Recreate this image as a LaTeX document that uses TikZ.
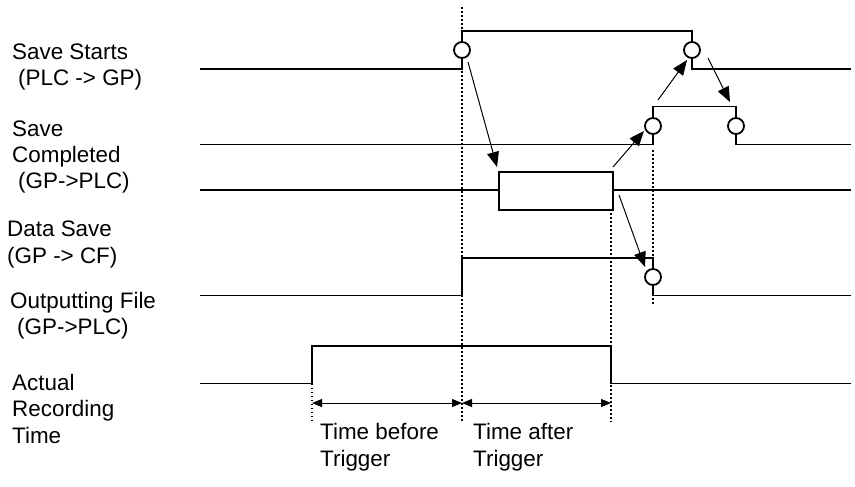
\documentclass[tikz,border=0pt]{standalone}
\usepackage{fontspec}
\setmainfont{Liberation Sans}
\usetikzlibrary{arrows.meta}
\begin{document}
\begin{tikzpicture}[x=1bp,y=-1bp,
  wave/.style={line width=1.8bp, line join=miter},
  dots/.style={line width=1.6bp, dash pattern=on 1.6bp off 2.4bp},
  flow/.style={line width=1bp, -{Triangle[length=15bp,width=12bp]}},
  dim/.style={line width=1bp, {Triangle[length=10bp,width=8bp]}-{Triangle[length=10bp,width=8bp]}},
  sigcirc/.style={circle, draw, fill=white, line width=1.8bp, minimum size=16bp, inner sep=0pt},
  lbl/.style={anchor=base west, inner sep=0pt, font=\fontsize{22.5}{27}\selectfont}]
\useasboundingbox (0,0) rectangle (855,487);

% labels
\node[lbl] (l1a) at (12,59.3) {Save Starts};
\node[lbl] (l1b) at (18,85.8) {(PLC -> GP)};
\node[lbl] (l2a) at (12,136.7) {Save};
\node[lbl] (l2b) at (12,162.5) {Completed};
\node[lbl] (l2c) at (18,189) {(GP->PLC)};
\node[lbl] (l3a) at (7,236.7) {Data Save};
\node[lbl] (l3b) at (7,263.3) {(GP -> CF)};
\node[lbl] (l4a) at (10,308.3) {Outputting File};
\node[lbl] (l4b) at (17,335) {(GP->PLC)};
\node[lbl] (l5a) at (12,390) {Actual};
\node[lbl] (l5b) at (12,416.7) {Recording};
\node[lbl] (l5c) at (12,443.3) {Time};
\node[lbl] (tb1) at (320,439) {Time before};
\node[lbl] (tb2) at (320,466) {Trigger};
\node[lbl] (ta1) at (473,439) {Time after};
\node[lbl] (ta2) at (473,466) {Trigger};

% dotted guide lines
\draw[dots] (462,7) -- (462,422);
\draw[dots] (611,209) -- (611,422);
\draw[dots] (312,383.5) -- (312,422);
\draw[dots] (653,150) -- (653,306);

% waveforms
\draw[wave] (200,69) -- (462,69) -- (462,31) -- (692,31) -- (692,69) -- (851,69);
\draw[wave] (200,144.5) -- (653,144.5) -- (653,106.5) -- (736,106.5) -- (736,144.5) -- (851,144.5);
\draw[wave] (200,190) -- (498,190);
\draw[wave] (612,190) -- (851,190);
\node[draw, line width=1.8bp, fill=white, minimum width=114bp, minimum height=38bp, inner sep=0pt, anchor=north west] (dbox) at (498,171) {};
\draw[wave] (200,295.5) -- (462,295.5) -- (462,258) -- (653,258) -- (653,295.5) -- (851,295.5);
\draw[wave] (200,383.5) -- (312,383.5) -- (312,346) -- (611,346) -- (611,383.5) -- (851,383.5);

% handshake circles
\node[sigcirc] (c1) at (462,50) {};
\node[sigcirc] (c2) at (692,50) {};
\node[sigcirc] (c3) at (653,126) {};
\node[sigcirc] (c4) at (736,126) {};
\node[sigcirc] (c5) at (653,277) {};

% arrow end points
\coordinate (a1s) at (468,62);
\coordinate (a1e) at (497,167);
\coordinate (a2s) at (613,167);
\coordinate (a2e) at (644,131);
\coordinate (a3s) at (658,100);
\coordinate (a3e) at (687,60);
\coordinate (a4s) at (708,58);
\coordinate (a4e) at (730,102);
\coordinate (a5s) at (619,195);
\coordinate (a5e) at (645,267);
\draw[flow] (a1s) -- (a1e);
\draw[flow] (a2s) -- (a2e);
\draw[flow] (a3s) -- (a3e);
\draw[flow] (a4s) -- (a4e);
\draw[flow] (a5s) -- (a5e);

% time spans
\coordinate (t0) at (312,403);
\coordinate (t1) at (462,403);
\coordinate (t2) at (611,403);
\draw[dim] (t0) -- (t1);
\draw[dim] (t1) -- (t2);
\end{tikzpicture}
\end{document}
